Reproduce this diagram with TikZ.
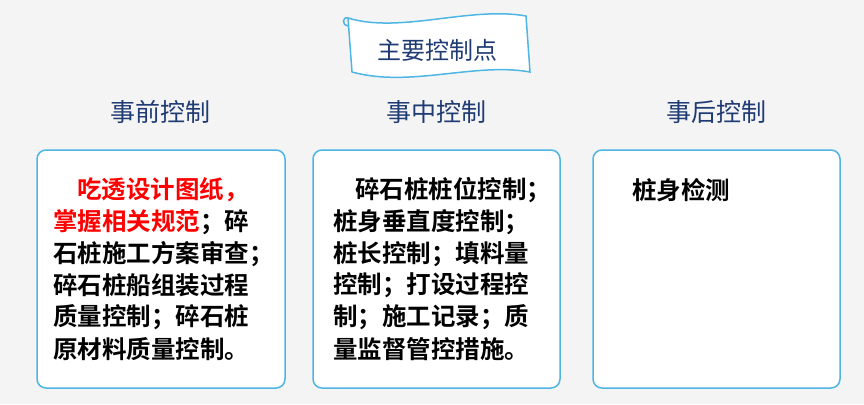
\documentclass[tikz,border=0pt]{standalone}
\usepackage{fontspec}
\newfontfamily\cjk{Noto Sans CJK SC}
\newfontfamily\cjkb{Noto Sans CJK SC Bold}
\definecolor{bg}{HTML}{F4F4F4}
\definecolor{bl}{HTML}{4DB6E2}
\definecolor{hd}{HTML}{1F3B73}
\definecolor{rd}{HTML}{FF0000}
\tikzset{x=1pt,y=-1pt,
 box/.style={draw=bl,line width=1.5pt,rounded corners=9pt,fill=white},
 head/.style={font=\cjk\fontsize{25}{25}\selectfont,text=hd},
 ln/.style={anchor=west,inner sep=0pt,font=\cjkb\fontsize{24.5}{24.5}\selectfont}}
\begin{document}
\begin{tikzpicture}
\useasboundingbox (0,0) rectangle (864,404);
\fill[bg] (0,0) rectangle (864,404);
% banner
\draw[bl,line width=1.5pt,fill=white] (348,18) .. controls (400,34) and (470,6) .. (526,16)
 -- (530,72) .. controls (475,62) and (410,88) .. (352,72) -- cycle;
\draw[bl,line width=1.5pt] (348,18) .. controls (342,16) and (342,26) .. (348,26);
\node[font=\cjk\fontsize{24}{24}\selectfont,text=hd] (ban) at (437,50) {主要控制点};
\node[head] (h1) at (160,112) {事前控制};
\node[head] (h2) at (436,112) {事中控制};
\node[head] (h3) at (716,112) {事后控制};
\draw[box] (37,150) rectangle (285,388);
\draw[box] (313,150) rectangle (560,388);
\draw[box] (593,150) rectangle (840,388);
% left
\node[ln,text=rd] (l1) at (77,190) {吃透设计图纸，};
\node[ln] (l2) at (53,222) {\textcolor{rd}{掌握相关规范}；碎};
\node[ln] (l3) at (53,254) {石桩施工方案审查；};
\node[ln] (l4) at (53,285) {碎石桩船组装过程};
\node[ln] (l5) at (53,317) {质量控制；碎石桩};
\node[ln] (l6) at (53,349) {原材料质量控制。};
% middle
\node[ln] (m1) at (355,190) {碎石桩桩位控制；};
\node[ln] (m2) at (333,222) {桩身垂直度控制；};
\node[ln] (m3) at (333,254) {桩长控制；填料量};
\node[ln] (m4) at (333,285) {控制；打设过程控};
\node[ln] (m5) at (333,317) {制；施工记录；质};
\node[ln] (m6) at (333,349) {量监督管控措施。};
% right
\node[ln] (r1) at (632,190) {桩身检测};
\end{tikzpicture}
\end{document}
